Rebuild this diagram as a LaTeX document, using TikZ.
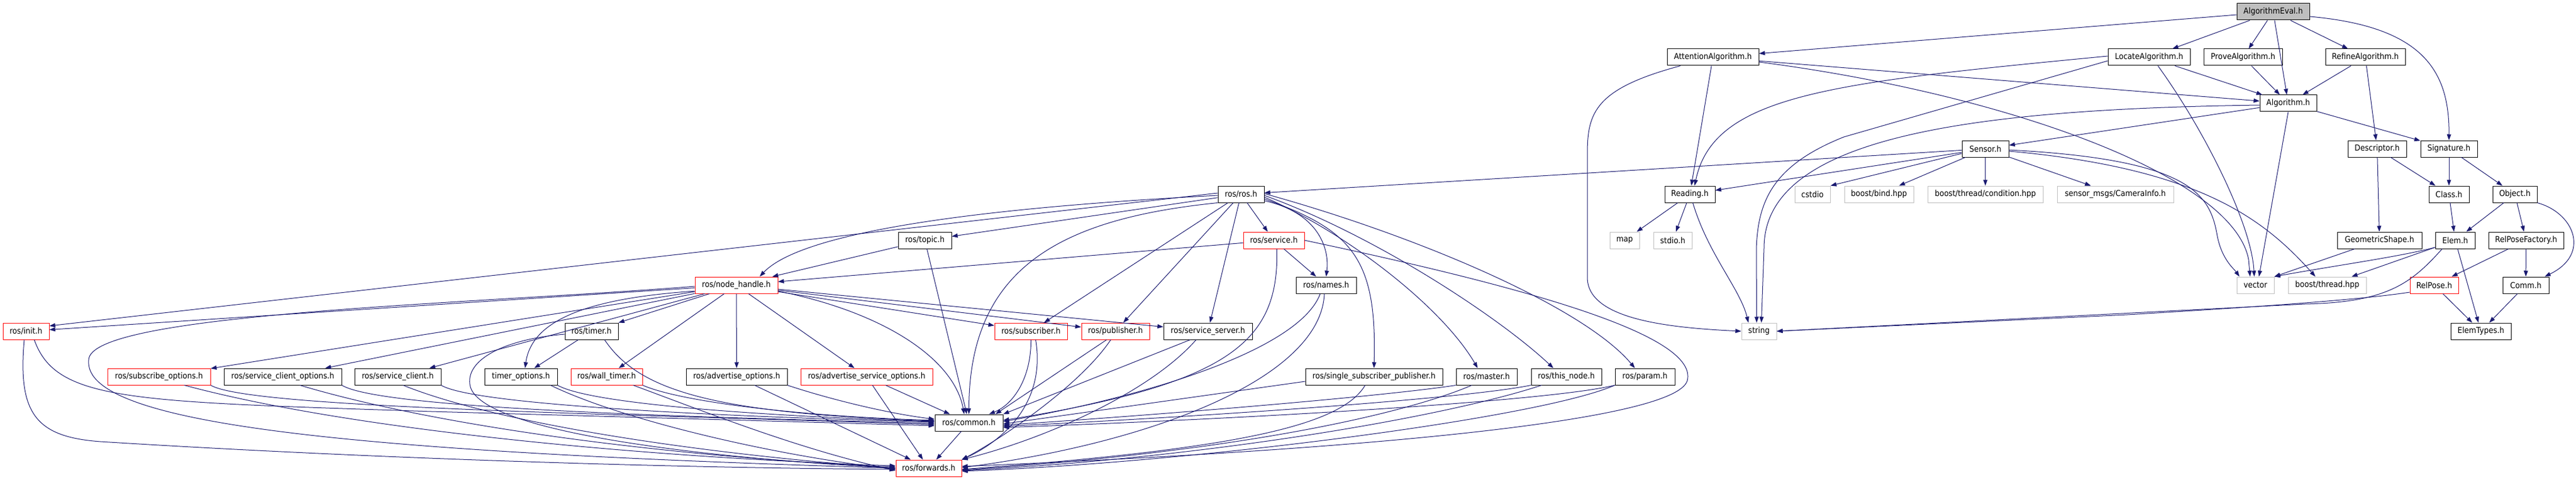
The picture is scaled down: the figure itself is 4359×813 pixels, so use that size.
\documentclass[tikz,border=0pt]{standalone}
\usepackage{fontspec}
\setmainfont{DejaVu Sans}[FakeStretch=0.9]
\usetikzlibrary{arrows.meta}
\definecolor{edgec}{HTML}{191970}
\definecolor{grayb}{HTML}{BFBFBF}
\begin{document}
\begin{tikzpicture}[x=1pt,y=-1pt,
 every node/.style={font=\fontsize{14}{16}\selectfont, inner sep=0pt, minimum height=28pt, draw, line width=1pt, fill=white},
 nb/.style={draw=black},
 nr/.style={draw=red},
 ng/.style={draw=grayb},
 nroot/.style={draw=black, fill=grayb},
 edg/.style={draw=edgec, line width=1pt, -{Triangle[length=10pt,width=7pt]}},
]
\fill[white] (0,0) rectangle (4359,813);
\useasboundingbox (0,0) rectangle (4359,813);
% ---------- nodes ----------
\node[nroot, minimum width=123pt] (evl) at (3846.5,20) {AlgorithmEval.h};
\node[nb, minimum width=155pt] (att) at (2898.5,97) {AttentionAlgorithm.h};
\node[nb, minimum width=139pt] (loc) at (3636.5,97) {LocateAlgorithm.h};
\node[nb, minimum width=133pt] (prv) at (3795.5,97) {ProveAlgorithm.h};
\node[nb, minimum width=135pt] (ref) at (4002.5,97) {RefineAlgorithm.h};
\node[nb, minimum width=96pt] (alg) at (3872,175) {Algorithm.h};
\node[nb, minimum width=79pt] (sen) at (3359.5,252) {Sensor.h};
\node[nb, minimum width=99pt] (des) at (4022.5,252) {Descriptor.h};
\node[nb, minimum width=96pt] (sig) at (4144,252) {Signature.h};
\node[nb, minimum width=78pt] (ros) at (2100,329) {ros/ros.h};
\node[nb, minimum width=85pt] (rea) at (2859.5,329) {Reading.h};
\node[ng, minimum width=60pt] (cst) at (3067,329) {cstdio};
\node[ng, minimum width=117pt] (bnd) at (3179.5,329) {boost/bind.hpp};
\node[ng, minimum width=195pt] (cnd) at (3359.5,329) {boost/thread/condition.hpp};
\node[ng, minimum width=197pt] (cam) at (3579.5,329) {sensor\_msgs/CameraInfo.h};
\node[nb, minimum width=68pt] (cls) at (4144,329) {Class.h};
\node[nb, minimum width=75pt] (obj) at (4255.5,329) {Object.h};
\node[nb, minimum width=90pt] (top) at (1565,407) {ros/topic.h};
\node[nr, minimum width=103pt] (srv) at (2155.5,407) {ros/service.h};
\node[ng, minimum width=50pt] (map) at (2749,407) {map};
\node[ng, minimum width=65pt] (sti) at (2830.5,407) {stdio.h};
\node[nb, minimum width=143pt] (geo) at (4026.5,407) {GeometricShape.h};
\node[nb, minimum width=67pt] (elm) at (4154.5,407) {Elem.h};
\node[nb, minimum width=127pt] (rpf) at (4274.5,407) {RelPoseFactory.h};
\node[nr, minimum width=140pt] (nh) at (1246,483) {ros/node\_handle.h};
\node[nb, minimum width=102pt] (nam) at (2244,483) {ros/names.h};
\node[ng, minimum width=63pt] (vec) at (3816.5,483) {vector};
\node[ng, minimum width=132pt] (bth) at (3938,483) {boost/thread.hpp};
\node[nr, minimum width=82pt] (rp) at (4119,483) {RelPose.h};
\node[nb, minimum width=78pt] (com) at (4274,483) {Comm.h};
\node[nr, minimum width=78pt] (ini) at (44,561) {ros/init.h};
\node[nb, minimum width=90pt] (tmr) at (1001,561) {ros/timer.h};
\node[nr, minimum width=123pt] (sub) at (1744.5,561) {ros/subscriber.h};
\node[nr, minimum width=115pt] (pub) at (1887.5,561) {ros/publisher.h};
\node[nb, minimum width=150pt] (ssv) at (2044,561) {ros/service\_server.h};
\node[ng, minimum width=59pt] (str) at (2976.5,561) {string};
\node[nb, minimum width=102pt] (ety) at (4198,561) {ElemTypes.h};
\node[nr, minimum width=174pt] (sbo) at (269,638) {ros/subscribe\_options.h};
\node[nb, minimum width=199pt] (sco) at (478.5,638) {ros/service\_client\_options.h};
\node[nb, minimum width=146pt] (scl) at (673,638) {ros/service\_client.h};
\node[nb, minimum width=123pt] (tmo) at (881.5,638) {timer\_options.h};
\node[nr, minimum width=121pt] (wtm) at (1026.5,638) {ros/wall\_timer.h};
\node[nb, minimum width=171pt] (ado) at (1246.5,638) {ros/advertise\_options.h};
\node[nr, minimum width=223pt] (aso) at (1466.5,638) {ros/advertise\_service\_options.h};
\node[nb, minimum width=232pt] (ssp) at (2325,638) {ros/single\_subscriber\_publisher.h};
\node[nb, minimum width=103pt] (mst) at (2515.5,638) {ros/master.h};
\node[nb, minimum width=119pt] (thn) at (2650.5,638) {ros/this\_node.h};
\node[nb, minimum width=101pt] (prm) at (2783.5,638) {ros/param.h};
\node[nb, minimum width=115pt] (cmn) at (1639.5,716) {ros/common.h};
\node[nr, minimum width=111pt] (fwd) at (1571.5,793) {ros/forwards.h};
% ---------- top cluster ----------
\draw[edg] (evl) -- (att);
\draw[edg] (evl) -- (loc);
\draw[edg] (evl) -- (prv);
\draw[edg] (evl) -- (alg);
\draw[edg] (evl) -- (ref);
\draw[edg] ([yshift=-8pt]evl.east) .. controls (4100,45) and (4145,120) .. (sig.north);
\draw[edg] (att) -- (alg);
\draw[edg] (att) -- (rea);
\draw[edg] ([yshift=-8pt]att.east) .. controls (3400,160) and (3780,300) .. (3805,440) -- ([xshift=-9pt]vec.north);
\draw[edg] ([xshift=-55pt]att.south) .. controls (2700,150) and (2686,190) .. (2686,260) -- (2686,470) .. controls (2686,540) and (2820,555) .. (str.west);
\draw[edg] (rea) -- (map);
\draw[edg] (rea) -- (sti);
\draw[edg] ([xshift=5pt]rea.south) .. controls (2890,430) and (2945,490) .. ([xshift=-18pt]str.north);
\draw[edg] ([yshift=2pt]loc.west) .. controls (3100,140) and (2900,160) .. ([xshift=8pt]rea.north);
\draw[edg] ([yshift=-6pt]loc.west) -- (3120,232) .. controls (3000,280) and (2975,340) .. (2972,420) -- ([xshift=-4pt]str.north);
\draw[edg] ([xshift=15pt]loc.south) .. controls (3730,220) and (3810,380) .. ([xshift=-2pt]vec.north);
\draw[edg] (loc) -- (alg);
\draw[edg] (prv) -- (alg);
\draw[edg] (ref) -- (alg);
\draw[edg] (ref) -- (des);
\draw[edg] (alg) -- (sen);
\draw[edg] (alg) -- (sig);
\draw[edg] (alg.south) -- ([xshift=6pt]vec.north);
\draw[edg] ([yshift=-3pt]alg.west) .. controls (3300,185) and (2985,240) .. (2985,420) -- ([xshift=4pt]str.north);
\draw[edg] (sen) -- (ros);
\draw[edg] (sen) -- (rea);
\draw[edg] ([yshift=-8pt]sen.west) -- (cst.north east);
\draw[edg] (sen) -- (bnd);
\draw[edg] (sen) -- (cnd);
\draw[edg] (sen) -- (cam);
\draw[edg] ([yshift=-2pt]sen.east) .. controls (3710,270) and (3740,330) .. (3752,400) .. controls (3760,440) and (3780,455) .. ([xshift=-27pt]vec.north);
\draw[edg] ([yshift=-4pt]sen.east) .. controls (3720,285) and (3830,370) .. ([xshift=-20pt]bth.north);
\draw[edg] (des) -- (cls);
\draw[edg] (des) -- (geo);
\draw[edg] (sig) -- (cls);
\draw[edg] (sig) -- (obj);
\draw[edg] (cls) -- (elm);
\draw[edg] (obj) -- (elm);
\draw[edg] (obj) -- (rpf);
\draw[edg] (obj.south east) .. controls (4355,360) and (4385,430) .. ([xshift=32pt]com.north);
\draw[edg] (geo) -- (vec.north east);
\draw[edg] ([yshift=-12pt]elm.west) .. controls (4060,435) and (3950,450) .. (vec.north east);
\draw[edg] (elm) -- (bth);
\draw[edg] ([xshift=-22pt]elm.south) .. controls (4080,480) and (4040,512) .. (3900,515) -- (str.east);
\draw[edg] ([yshift=-12pt]rp.west) .. controls (4010,505) and (3900,515) .. (3600,533) -- (str.east);
\draw[edg] (elm) -- (ety);
\draw[edg] (rp) -- (ety);
\draw[edg] (rpf) -- (rp);
\draw[edg] (rpf) -- (com);
\draw[edg] (com) -- (ety);
% ---------- ros/ros.h ----------
\draw[edg] (ros) -- (top);
\draw[edg] ([yshift=-2pt]ros.west) .. controls (1600,355) and (1350,400) .. ([xshift=-31pt]nh.north east);
\draw[edg] ([yshift=2pt]ros.west) -- ([yshift=9pt]ini.east);
\draw[edg] (ros.south west) .. controls (1800,370) and (1640,450) .. (cmn.north);
\draw[edg] (ros) -- (sub);
\draw[edg] (ros) -- (pub);
\draw[edg] (ros) -- (ssv);
\draw[edg] (ros) -- (srv);
\draw[edg] ([yshift=-11pt]ros.east) .. controls (2230,360) and (2250,420) .. (nam.north);
\draw[edg] ([yshift=-8pt]ros.east) .. controls (2290,390) and (2330,440) .. (ssp.north);
\draw[edg] ([yshift=-5pt]ros.east) .. controls (2280,395) and (2440,520) .. ([xshift=-15pt]mst.north);
\draw[edg] ([yshift=-2pt]ros.east) .. controls (2330,400) and (2540,540) .. ([xshift=-22pt]thn.north);
\draw[edg] ([yshift=1pt]ros.east) .. controls (2400,400) and (2680,520) .. ([xshift=-17pt]prm.north);
% ---------- topic, service, names ----------
\draw[edg] (top) -- (nh);
\draw[edg] (top) -- (cmn);
\draw[edg] (srv) -- (nh);
\draw[edg] (srv) -- (nam);
\draw[edg] ([xshift=5pt]srv.south) .. controls (2165,580) and (2080,650) .. ([yshift=4pt]cmn.east);
\draw[edg] (srv.east) .. controls (2600,490) and (2875,570) .. (2855,645) .. controls (2835,710) and (2350,760) .. ([yshift=3pt]fwd.east);
\draw[edg] ([xshift=-10pt]nam.south) .. controls (2200,590) and (1950,670) .. ([yshift=2pt]cmn.east);
\draw[edg] ([xshift=-3pt]nam.south) .. controls (2235,640) and (1950,750) .. ([yshift=1pt]fwd.east);
% ---------- node_handle ----------
\draw[edg] (nh) -- (sub);
\draw[edg] (nh) -- (pub);
\draw[edg] (nh) -- (ssv);
\draw[edg] ([yshift=-10pt]nh.east) .. controls (1500,530) and (1615,610) .. ([xshift=-8pt]cmn.north);
\draw[edg] (nh) -- (tmr);
\draw[edg] ([yshift=-10pt]nh.west) .. controls (1000,505) and (900,540) .. ([xshift=7pt]tmo.north);
\draw[edg] (nh) -- (wtm);
\draw[edg] (nh) -- (ado);
\draw[edg] (nh) -- (aso);
\draw[edg] (nh) -- (ini);
\draw[edg] (nh) -- (sbo);
\draw[edg] (nh) -- (sco);
\draw[edg] (nh) -- (scl);
\draw[edg] ([yshift=-2pt]nh.west) .. controls (800,515) and (150,530) .. (150,610) .. controls (140,720) and (600,765) .. (fwd.west);
% ---------- timer ----------
\draw[edg] (tmr) -- (tmo);
\draw[edg] ([xshift=22pt]tmr.south) .. controls (1080,660) and (1200,700) .. ([yshift=3pt]cmn.west);
\draw[edg] ([yshift=-5pt]tmr.west) .. controls (850,575) and (790,610) .. (795,650) .. controls (800,720) and (1100,770) .. (fwd.west);
% ---------- init ----------
\draw[edg] ([xshift=-3pt]ini.south) .. controls (30,700) and (60,740) .. (170,748) .. controls (600,775) and (1100,792) .. ([yshift=-2pt]fwd.west);
\draw[edg] ([xshift=14pt]ini.south) .. controls (95,680) and (220,680) .. (730,697) -- ([yshift=-5pt]cmn.west);
% ---------- row of options ----------
\draw[edg] (sbo.south east) .. controls (420,690) and (1000,700) .. ([yshift=-3pt]cmn.west);
\draw[edg] (sco.south east) .. controls (640,690) and (1100,705) .. ([yshift=-1pt]cmn.west);
\draw[edg] (scl.south east) .. controls (800,685) and (1200,705) .. ([yshift=1pt]cmn.west);
\draw[edg] (tmo.south east) .. controls (1000,685) and (1300,705) .. ([yshift=2pt]cmn.west);
\draw[edg] (wtm.south east) .. controls (1150,680) and (1350,705) .. ([yshift=4pt]cmn.west);
\draw[edg] (ado.south east) .. controls (1400,675) and (1500,700) .. ([yshift=6pt]cmn.west);
\draw[edg] (aso) -- (cmn);
\draw[edg] ([xshift=43pt]sbo.south) .. controls (600,730) and (1100,775) .. ([yshift=4pt]fwd.west);
\draw[edg] ([xshift=29pt]sco.south) .. controls (750,725) and (1150,775) .. ([yshift=2pt]fwd.west);
\draw[edg] ([xshift=9pt]scl.south) .. controls (850,720) and (1200,770) .. (fwd.west);
\draw[edg] ([xshift=50pt]tmo.south) .. controls (1050,710) and (1300,770) .. ([yshift=-2pt]fwd.west);
\draw[edg] ([xshift=45pt]wtm.south) .. controls (1200,700) and (1350,760) .. ([yshift=-4pt]fwd.west);
\draw[edg] (ado) -- (fwd);
\draw[edg] (aso) -- (fwd);
% ---------- subscriber, publisher, service_server ----------
\draw[edg] (sub.south) .. controls (1745,640) and (1715,685) .. ([xshift=34pt]cmn.north);
\draw[edg] ([xshift=8pt]sub.south) .. controls (1770,680) and (1700,745) .. (fwd.north east);
\draw[edg] ([xshift=-15pt]pub.south) -- ([xshift=45pt]cmn.north);
\draw[edg] ([xshift=-8pt]pub.south) .. controls (1830,650) and (1700,740) .. (fwd.north east);
\draw[edg] ([xshift=-30pt]ssv.south) -- (cmn.north east);
\draw[edg] ([xshift=-20pt]ssv.south) .. controls (1950,660) and (1780,740) .. (fwd.north east);
% ---------- single, master, this_node, param ----------
\draw[edg] ([yshift=-8pt]ssp.west) -- ([yshift=-2pt]cmn.east);
\draw[edg] (mst.south west) .. controls (2350,670) and (2000,700) .. ([yshift=-4pt]cmn.east);
\draw[edg] (thn.south west) .. controls (2480,675) and (2050,705) .. ([yshift=-6pt]cmn.east);
\draw[edg] (prm.south west) .. controls (2620,680) and (2100,710) .. ([yshift=-8pt]cmn.east);
\draw[edg] ([xshift=-15pt]ssp.south) .. controls (2270,720) and (2100,760) .. ([yshift=-2pt]fwd.east);
\draw[edg] ([xshift=-25pt]mst.south) .. controls (2380,700) and (2100,765) .. ([yshift=-3pt]fwd.east);
\draw[edg] ([xshift=-42pt]thn.south) .. controls (2450,705) and (2050,775) .. ([yshift=-4pt]fwd.east);
\draw[edg] (prm.south west) .. controls (2600,710) and (2000,785) .. ([yshift=-5pt]fwd.east);
\draw[edg] (cmn) -- (fwd);
\end{tikzpicture}
\end{document}
